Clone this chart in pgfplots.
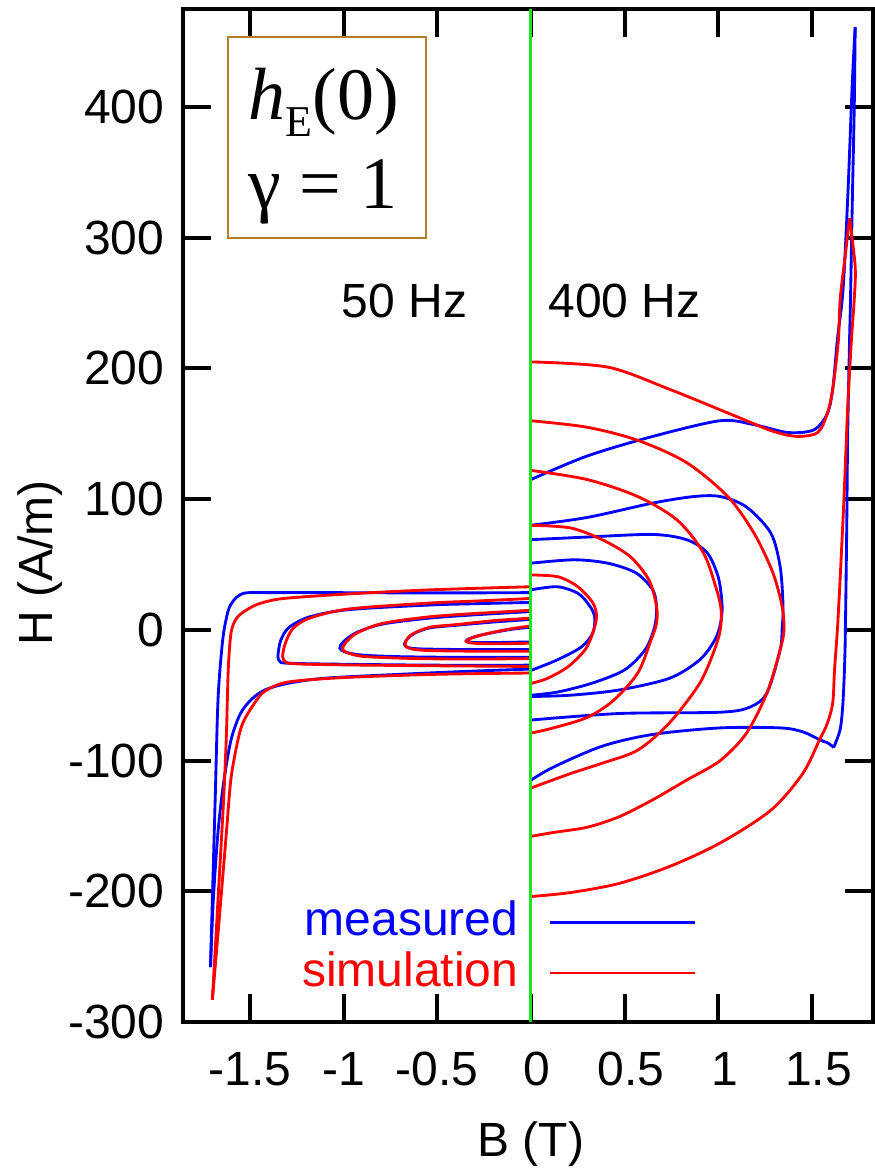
\documentclass[border=0pt]{standalone}
\usepackage{pgfplots}
\pgfplotsset{compat=1.18}
\usepackage{fontspec}
\setmainfont{Liberation Sans}
\newfontfamily\tnr{Liberation Serif}
\definecolor{boxbrown}{RGB}{176,128,36}
\definecolor{vgreen}{RGB}{30,230,30}
\begin{document}
\begin{tikzpicture}
\begin{axis}[
  name=ax,
  width=206.85pt, height=303.9pt, scale only axis,
  xmin=-1.854, xmax=1.825, ymin=-300, ymax=475,
  xtick={-1.5,-1,-0.5,0,0.5,1,1.5},
  xticklabels={-1.5,-1,-0.5,\hspace*{3.8pt}0,\hspace*{3.8pt}0.5,\hspace*{3.8pt}1,\hspace*{3.8pt}1.5},
  ytick={-300,-200,-100,0,100,200,300,400},
  yticklabels={-300,-200,-100,0,100,200,300,400},
  tick align=inside,
  major tick length=8.4pt,
  tick style={black, line width=1.2pt},
  axis line style={line width=1.2pt},
  tick label style={font=\fontsize{14.4}{17}\selectfont},
  xticklabel style={yshift=-5.5pt},
  yticklabel style={xshift=-2.2pt},
  label style={font=\fontsize{14.4}{17}\selectfont, inner sep=0pt},
  xlabel={B (T)}, ylabel={H (A/m)},
  xlabel style={at={(axis description cs:0.504,-0.1323)}, anchor=base},
  ylabel style={at={(axis description cs:-0.1907,0.453)}, anchor=base},
  every axis plot/.append style={line width=0.85pt, smooth, tension=0.5},
]
% ---------------- 50 Hz (B<0), measured ----------------
\addplot[blue] coordinates {(0,2) (-0.1,0.5) (-0.2,-2) (-0.28,-4.5) (-0.33,-6.8) (-0.345,-8.3) (-0.33,-9.2) (-0.28,-9.7) (-0.15,-9.6) (0,-9.2)};
\addplot[blue] coordinates {(0,8) (-0.2,6) (-0.4,3.5) (-0.54,1.5) (-0.62,-2.5) (-0.66,-7) (-0.675,-11) (-0.66,-13.3) (-0.6,-14.5) (-0.4,-15) (-0.2,-15) (0,-15)};
\addplot[blue] coordinates {(0,14) (-0.3,11.5) (-0.54,9) (-0.79,4.5) (-0.93,-2) (-1.0,-9) (-1.02,-14) (-0.99,-17) (-0.9,-19.3) (-0.7,-20.5) (-0.4,-21) (0,-21)};
\addplot[blue] coordinates {(0,21) (-0.3,20) (-0.54,19) (-0.97,15.5) (-1.18,10) (-1.29,2) (-1.335,-8) (-1.35,-20) (-1.34,-24) (-1.3,-25.5) (-1.0,-26.3) (-0.5,-27) (0,-27)};
\addplot[blue] coordinates {(0,28.5) (-0.3,28.3) (-0.7,28.3) (-1.1,28.5) (-1.4,28.5) (-1.52,28.3) (-1.57,25) (-1.61,17) (-1.635,2) (-1.65,-15) (-1.67,-54) (-1.685,-130) (-1.70,-207) (-1.71,-258)};
\addplot[blue] coordinates {(-1.71,-258) (-1.695,-207) (-1.67,-155) (-1.64,-117) (-1.60,-84) (-1.55,-64) (-1.49,-53) (-1.42,-46) (-1.3,-41) (-1.1,-37) (-0.7,-34) (-0.3,-31.5) (0,-30)};
% ---------------- 50 Hz (B<0), simulation ----------------
\addplot[red] coordinates {(0,3) (-0.1,1) (-0.2,-1.8) (-0.28,-4.5) (-0.33,-7) (-0.345,-8.8) (-0.33,-9.8) (-0.27,-10.5) (-0.15,-10.6) (0,-10.2)};
\addplot[red] coordinates {(0,9) (-0.2,7) (-0.4,4) (-0.54,2) (-0.63,-3) (-0.665,-8) (-0.67,-12) (-0.64,-14.5) (-0.55,-15.8) (-0.3,-16.3) (0,-16.3)};
\addplot[red] coordinates {(0,15) (-0.3,12.5) (-0.54,10) (-0.79,5) (-0.93,-2.5) (-0.99,-10) (-1.005,-15) (-0.97,-18) (-0.88,-20.5) (-0.6,-22) (-0.3,-22.3) (0,-22)};
\addplot[red] coordinates {(0,24) (-0.3,22) (-0.54,20.5) (-0.97,16) (-1.18,9) (-1.27,1) (-1.31,-10) (-1.325,-20) (-1.31,-24.5) (-1.25,-26) (-1.0,-26.8) (-0.5,-27.5) (0,-28)};
\addplot[red] coordinates {(0,33) (-0.54,30.6) (-0.97,27.5) (-1.32,24) (-1.45,20) (-1.52,15) (-1.57,9) (-1.60,-2) (-1.615,-30) (-1.625,-80) (-1.64,-130) (-1.67,-207) (-1.69,-258) (-1.70,-283)};
\addplot[red] coordinates {(-1.70,-283) (-1.685,-258) (-1.655,-207) (-1.625,-155) (-1.60,-113) (-1.56,-82) (-1.53,-69) (-1.47,-55) (-1.42,-47) (-1.3,-40) (-1.0,-36.5) (-0.5,-34) (0,-33)};
% ---------------- 400 Hz (B>0), measured ----------------
\addplot[blue] coordinates {(0,30.6) (0.14,33) (0.25,28) (0.31,19) (0.34,10) (0.33,-2.3) (0.27,-13) (0.14,-23) (0,-31)};
\addplot[blue] coordinates {(0,51) (0.23,53.6) (0.41,51) (0.56,43.6) (0.65,30.6) (0.67,17.6) (0.66,2.3) (0.61,-15) (0.50,-30.6) (0.33,-40.6) (0.145,-47.5) (0,-50)};
\addplot[blue] coordinates {(0,69) (0.30,71) (0.65,73) (0.83,69) (0.94,59) (1.00,40) (1.02,18) (1.01,4) (0.98,-8) (0.90,-23) (0.74,-37) (0.47,-46) (0.21,-50) (0,-51)};
\addplot[blue] coordinates {(0,80) (0.30,86) (0.65,97) (0.87,102) (1.01,102) (1.15,94) (1.28,74) (1.33,48) (1.345,18) (1.34,0) (1.33,-15) (1.26,-48) (1.17,-59) (1.01,-63) (0.47,-64) (0,-69)};
\addplot[blue] coordinates {(0,115) (0.30,133) (0.65,148) (1.01,160) (1.19,157) (1.37,151) (1.51,153) (1.58,165) (1.61,184) (1.635,222) (1.665,260) (1.69,330) (1.715,420) (1.73,461)};
\addplot[blue] coordinates {(1.73,461) (1.725,400) (1.715,330) (1.705,253) (1.70,222) (1.69,150) (1.685,80) (1.68,23) (1.675,-20) (1.665,-55) (1.65,-76) (1.615,-90)};
\addplot[blue] coordinates {(1.615,-90) (1.59,-87) (1.54,-84) (1.45,-78) (1.33,-75) (1.01,-75) (0.65,-80) (0.38,-89) (0.12,-105) (0,-115)};
% ---------------- 400 Hz (B>0), simulation ----------------
\addplot[red] coordinates {(0,42) (0.145,40.6) (0.25,33) (0.33,20.7) (0.35,10) (0.33,-2.3) (0.29,-15) (0.20,-28) (0.09,-37) (0,-41)};
\addplot[red] coordinates {(0,80) (0.21,78) (0.38,69) (0.53,56) (0.63,38) (0.67,18) (0.67,5) (0.64,-8) (0.57,-33) (0.44,-54) (0.30,-67) (0.12,-75) (0,-79)};
\addplot[red] coordinates {(0,122) (0.30,115) (0.57,102) (0.78,84) (0.92,59) (0.99,31) (1.015,15) (1.01,0) (0.98,-15) (0.90,-41) (0.74,-71) (0.57,-92) (0.38,-102) (0.21,-110) (0,-121)};
\addplot[red] coordinates {(0,160) (0.30,155) (0.57,145) (0.83,128) (1.05,102) (1.19,74) (1.29,44) (1.34,18) (1.35,0) (1.33,-15) (1.26,-48) (1.15,-79) (1.01,-100) (0.83,-115) (0.65,-130) (0.47,-143) (0.30,-151) (0.12,-155) (0,-158)};
\addplot[red] coordinates {(0,205) (0.41,201) (0.74,184) (1.10,163) (1.29,152) (1.42,148) (1.53,151) (1.58,165) (1.61,184) (1.64,221) (1.65,253) (1.68,290) (1.70,315)};
\addplot[red] coordinates {(1.70,315) (1.73,278) (1.725,253) (1.71,222) (1.69,170) (1.67,100) (1.65,40) (1.635,0) (1.62,-30) (1.61,-56) (1.58,-72) (1.54,-84) (1.45,-110) (1.28,-138) (1.01,-163) (0.74,-181) (0.47,-194) (0.21,-201) (0,-204)};
% ---------------- legend samples ----------------
\addplot[blue] coordinates {(0.10,-224) (0.875,-224)};
\addplot[red] coordinates {(0.10,-262.5) (0.875,-262.5)};
% ---------------- B = 0 divider ----------------
\addplot[vgreen, line width=0.9pt] coordinates {(0,-300) (0,475)};
% ---------------- annotations ----------------
\node[anchor=base east, inner sep=0pt, font=\fontsize{14.4}{17}\selectfont] at (axis cs:-0.336,239) {50 Hz};
\node[anchor=base west, inner sep=0pt, font=\fontsize{14.4}{17}\selectfont] at (axis cs:0.09,239) {400 Hz};
\node[anchor=base east, inner sep=0pt, text=blue, font=\fontsize{14.4}{17}\selectfont] at (axis cs:-0.064,-234) {measured};
\node[anchor=base east, inner sep=0pt, text=red, font=\fontsize{14.4}{17}\selectfont] at (axis cs:-0.064,-272.5) {simulation};
\draw[boxbrown, line width=0.6pt] (axis cs:-1.617,453.2) rectangle (axis cs:-0.560,300.1);
\node[anchor=base west, inner sep=0pt, font=\tnr\fontsize{22.2}{26}\selectfont] at (axis cs:-1.510,390.4) {\textit{h}\raisebox{-5.1pt}{\fontsize{13.2}{15}\selectfont E}(0)};
\node[anchor=base west, inner sep=0pt, font=\tnr\fontsize{22.2}{26}\selectfont] at (axis cs:-1.510,322.3) {γ = 1};
\end{axis}
\path (ax.south west) ++(-55.05pt,-44.4pt) rectangle ++(262.5pt,351pt);
\end{tikzpicture}
\end{document}
